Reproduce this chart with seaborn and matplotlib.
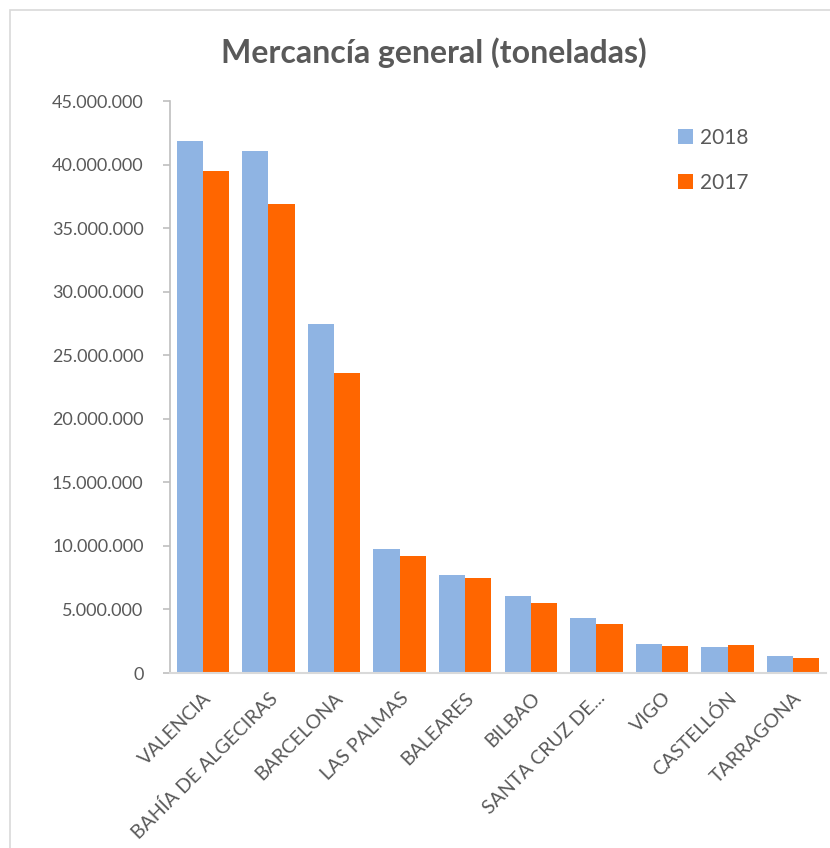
import matplotlib
matplotlib.use("Agg")
import matplotlib.pyplot as plt
import matplotlib.ticker as mticker
import matplotlib.transforms as mtransforms
from matplotlib.patches import Rectangle
import seaborn as sns
import pandas as pd

puertos = ["VALENCIA", "BAHÍA DE ALGECIRAS", "BARCELONA", "LAS PALMAS", "BALEARES",
           "BILBAO", "SANTA CRUZ DE...", "VIGO", "CASTELLÓN", "TARRAGONA"]
v2018 = [41860000, 41100000, 27430000, 9760000, 7730000, 6030000, 4330000, 2280000, 2070000, 1360000]
v2017 = [39470000, 36900000, 23600000, 9180000, 7470000, 5480000, 3880000, 2120000, 2200000, 1200000]
series = ["2018", "2017"]
colores = ["#8FB4E3", "#FF6600"]

df = pd.DataFrame({
    "puerto": puertos * 2,
    "valor": v2018 + v2017,
    "año": [series[0]] * len(puertos) + [series[1]] * len(puertos),
})

sns.set_theme(style="white")
plt.rcParams["font.family"] = ["Lato", "DejaVu Sans"]
gris = "#595959"

fig = plt.figure(figsize=(8.30, 8.48), dpi=100)
ax = fig.add_axes([170 / 830, 1 - 673 / 848, (826 - 170) / 830, (673 - 101) / 848])

sns.barplot(data=df, x="puerto", y="valor", hue="año", palette=colores,
            hue_order=series, order=puertos, width=0.8, ax=ax,
            saturation=1, edgecolor="none", linewidth=0, errorbar=None)

ax.set_ylim(0, 45000000)
ax.set_xlim(-0.5, len(puertos) - 0.5)
ax.yaxis.set_major_locator(mticker.MultipleLocator(5000000))
ax.yaxis.set_major_formatter(mticker.FuncFormatter(lambda v, p: f"{int(v):,}".replace(",", ".")))
ax.set_xlabel("")
ax.set_ylabel("")

for s in ["top", "right"]:
    ax.spines[s].set_visible(False)
ax.spines["left"].set_color("#BFBFBF")
ax.spines["left"].set_linewidth(1.2)
ax.spines["bottom"].set_color("#D9D9D9")
ax.spines["bottom"].set_linewidth(1.5)

ax.tick_params(axis="y", which="major", left=True, length=5, width=1.2, color="#BFBFBF",
               labelsize=13, labelcolor=gris, pad=14)
ax.tick_params(axis="x", bottom=False, labelsize=14, labelcolor=gris, pad=10)
offset = mtransforms.ScaledTranslation(6 / 100, 0, fig.dpi_scale_trans)
for lbl in ax.get_xticklabels():
    lbl.set_rotation(45)
    lbl.set_ha("right")
    lbl.set_va("center")
    lbl.set_rotation_mode("anchor")
    lbl.set_transform(lbl.get_transform() + offset)

fig.text(434 / 830, 1 - 53 / 848, "Mercancía general (toneladas)", fontsize=23, fontweight="bold",
         color=gris, ha="center", va="center")

leg = ax.legend(loc="upper left", bbox_to_anchor=((678 - 170) / 656, 1 - (128 - 101) / 572),
                frameon=False, fontsize=15, labelcolor=gris, handlelength=0.7, handleheight=0.7,
                handletextpad=0.35, labelspacing=1.2, borderaxespad=0, borderpad=0)

fig.patches.append(Rectangle((10 / 830, -0.1), 1.2, 1 - 10 / 848 + 0.1, transform=fig.transFigure,
                             fill=False, edgecolor="#D9D9D9", linewidth=1.2, zorder=0))

fig.savefig("out.png", dpi=100, facecolor="white")
